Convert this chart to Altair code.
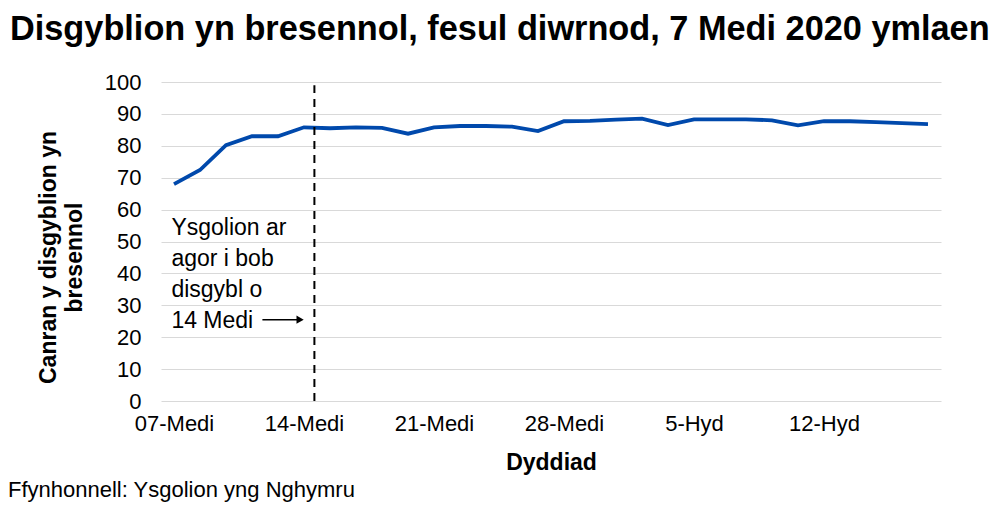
import altair as alt
import pandas as pd

# Attendance (%) per school day from 7 Sept 2020 (weekdays only)
attendance = [68.0, 72.4, 80.2, 83.0, 83.0, 85.8, 85.5, 85.8, 85.6, 83.8,
              85.8, 86.2, 86.2, 86.0, 84.6, 87.7, 87.8, 88.2, 88.5, 86.5,
              88.3, 88.3, 88.3, 88.0, 86.4, 87.7, 87.7, 87.4, 87.1, 86.8]
tick_index = [0, 5, 10, 15, 20, 25]
tick_labels = ["07-Medi", "14-Medi", "21-Medi", "28-Medi", "5-Hyd", "12-Hyd"]
y_ticks = [0, 10, 20, 30, 40, 50, 60, 70, 80, 90, 100]

annot_lines = ["Ysgolion ar", "agor i bob", "disgybl o", "14 Medi"]
marker_x = 5.4
marker_top = 99
arrow_from = 3.4
arrow_to = 5.0
arrow_y = 25.5

FONT = "Liberation Sans"

df = pd.DataFrame({"i": list(range(len(attendance))), "v": attendance})

label_map = "{" + ",".join(f"'{k}':'{v}'" for k, v in zip(tick_index, tick_labels)) + "}"

xscale = alt.Scale(domain=[-0.5, len(attendance) - 0.5], nice=False, zero=False)
yscale = alt.Scale(domain=[0, 100], nice=False)

xaxis = alt.Axis(values=tick_index,
                 labelExpr=f"{label_map}[datum.value]",
                 title="Dyddiad", grid=False, domain=False, ticks=False,
                 labelFont=FONT, labelFontSize=22, labelColor="#000",
                 labelPadding=12, labelOverlap=False,
                 titleFont=FONT, titleFontSize=23,
                 titleFontWeight="bold", titleColor="#000", titlePadding=17)
yaxis = alt.Axis(values=y_ticks, tickCount=11, title=["Canran y disgyblion yn", "bresennol"],
                 grid=True, gridColor="#d9d9d9", domain=False, ticks=False,
                 labelFont=FONT, labelFontSize=22, labelColor="#000",
                 labelPadding=20, labelOverlap=False,
                 titleFont=FONT, titleFontSize=23,
                 titleFontWeight="bold", titleColor="#000",
                 titleLineHeight=26, titleX=-101, titleY=175,
                 titleAlign="center", titleAngle=-90)


def X(field):
    return alt.X(field, scale=xscale, axis=xaxis)


def Y(field):
    return alt.Y(field, scale=yscale, axis=yaxis)


line = alt.Chart(df).mark_line(color="#0049AC", strokeWidth=3.8).encode(
    x=X("i:Q"), y=Y("v:Q"))

vdf = pd.DataFrame({"x": [marker_x], "y0": [0], "y1": [marker_top]})
vline = alt.Chart(vdf).mark_rule(color="#000", strokeWidth=2, strokeDash=[8, 6]).encode(
    x=X("x:Q"), y=Y("y0:Q"), y2="y1:Q")

adf = pd.DataFrame({"x": [-0.1], "y": [54.2], "t": ["\n".join(annot_lines)]})
annot = alt.Chart(adf).mark_text(align="left", baseline="middle", font=FONT, fontSize=23,
                                 lineBreak="\n", lineHeight=31, color="#000").encode(
    x=X("x:Q"), y=Y("y:Q"), text="t:N")

ardf = pd.DataFrame({"x0": [arrow_from], "x1": [arrow_to - 0.2], "y": [arrow_y]})
arrow_line = alt.Chart(ardf).mark_rule(color="#000", strokeWidth=1.5).encode(
    x=X("x0:Q"), x2="x1:Q", y=Y("y:Q"))
headdf = pd.DataFrame({"x": [arrow_to - 0.15], "y": [arrow_y]})
arrow_head = alt.Chart(headdf).mark_point(shape="triangle-right", filled=True, color="#000",
                                          size=70, opacity=1).encode(
    x=X("x:Q"), y=Y("y:Q"))

sdf = pd.DataFrame({"t": ["Ffynhonnell: Ysgolion yng Nghymru"]})
source = alt.Chart(sdf).mark_text(align="left", baseline="middle", font=FONT, fontSize=22,
                                  color="#000").encode(
    x=alt.value(-153), y=alt.value(408), text="t:N")

chart = alt.layer(line, vline, annot, arrow_line, arrow_head, source).properties(
    width=780, height=319,
    autosize=alt.AutoSizeParams(type="none"),
    padding={"left": 153, "top": 74, "right": 55, "bottom": 103},
    title=alt.Title("Disgyblion yn bresennol, fesul diwrnod, 7 Medi 2020 ymlaen",
                    anchor="start", frame="group", dx=-151, offset=24,
                    font=FONT, fontSize=34.3, fontWeight="bold", color="#000"),
).configure_view(stroke=None)

chart.save("out.html", embed_options={"renderer": "svg", "actions": False})
